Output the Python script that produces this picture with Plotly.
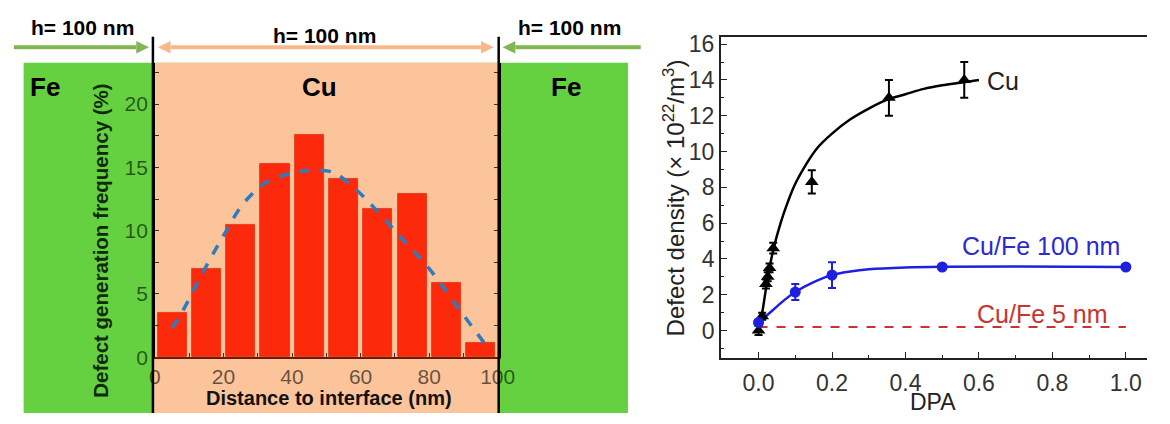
import plotly.graph_objects as go

# ---------------- data ----------------
# Left panel: histogram of defect generation frequency
dist_centers = [5, 15, 25, 35, 45, 55, 65, 75, 85, 95]
freq_values = [3.5, 7.0, 10.5, 15.3, 17.6, 14.1, 11.7, 12.95, 5.85, 1.15]
fit_x = [5, 8, 14, 20, 26, 33, 40, 46, 52, 58, 64, 72, 80, 89, 96]
fit_y = [2.3, 3.6, 6.7, 9.6, 12.2, 13.9, 14.55, 14.75, 14.6, 13.4, 11.8, 9.4, 7.0, 3.7, 1.15]
left_xticks = [0, 20, 40, 60, 80, 100]
left_yticks = [0, 5, 10, 15, 20]

# Right panel: defect density vs DPA
cu_dpa = [0.0, 0.01, 0.02, 0.025, 0.03, 0.04, 0.145, 0.355, 0.56]
cu_density = [0.0, 0.8, 2.6, 3.0, 3.5, 4.6, 8.3, 13.0, 14.0]
cu_err = [0.25, 0.2, 0.25, 0.25, 0.25, 0.3, 0.65, 1.0, 1.0]
cu_fit_x = [0, 0.01, 0.02, 0.03, 0.04, 0.06, 0.08, 0.1, 0.13, 0.16, 0.2, 0.25, 0.3, 0.35, 0.4, 0.45, 0.5, 0.55, 0.6]
cu_fit_y = [0, 1.0, 2.3, 3.5, 4.5, 6.0, 7.2, 8.2, 9.3, 10.2, 11.0, 11.8, 12.4, 12.9, 13.2, 13.5, 13.7, 13.85, 14.0]

cufe100_dpa = [0.0, 0.1, 0.2, 0.5, 1.0]
cufe100_density = [0.45, 2.15, 3.1, 3.55, 3.55]
cufe100_err = [0.0, 0.45, 0.72, 0.0, 0.0]
cufe100_fit_x = [0, 0.02, 0.04, 0.07, 0.1, 0.15, 0.2, 0.25, 0.3, 0.4, 0.5, 0.7, 1.0]
cufe100_fit_y = [0.4, 0.8, 1.16, 1.7, 2.15, 2.7, 3.1, 3.3, 3.42, 3.52, 3.56, 3.58, 3.55]

cufe5_dpa = [0.0, 1.0]
cufe5_density = [0.2, 0.2]

right_xticks = [0.0, 0.2, 0.4, 0.6, 0.8, 1.0]
right_yticks = [0, 2, 4, 6, 8, 10, 12, 14, 16]

# ---------------- layout helpers ----------------
W, H = 1170, 424
def px(x):
    return x / W
def py(y):
    return 1 - y / H

FONT = "Liberation Sans, Arial, sans-serif"
GREEN = "#66d140"
ORANGE = "#fcc49b"
ARROW_GREEN = "#82b655"
ARROW_ORANGE = "#f8b88c"
BLUE = "#1f1fe0"
RED = "#c8342c"

fig = go.Figure()

# Left panel
fig.add_trace(go.Bar(
    x=dist_centers, y=freq_values, width=8.5,
    marker=dict(color="#fc2a0a", line=dict(color="#d41c00", width=0.6)),
    xaxis="x", yaxis="y", showlegend=False,
))
fig.add_trace(go.Scatter(
    x=fit_x, y=fit_y, mode="lines", line=dict(color="#2f7bbf", width=3.5, dash="dash", shape="spline"),
    xaxis="x", yaxis="y", showlegend=False,
))

# Right panel
fig.add_trace(go.Scatter(
    x=cu_fit_x, y=cu_fit_y, mode="lines", line=dict(color="black", width=2.5, shape="spline"),
    xaxis="x2", yaxis="y2", showlegend=False,
))
fig.add_trace(go.Scatter(
    x=cufe100_fit_x, y=cufe100_fit_y, mode="lines", line=dict(color=BLUE, width=2.5, shape="spline"),
    xaxis="x2", yaxis="y2", showlegend=False,
))
fig.add_trace(go.Scatter(
    x=cufe5_dpa, y=cufe5_density, mode="lines", line=dict(color=RED, width=2, dash="dash"),
    xaxis="x2", yaxis="y2", showlegend=False,
))
fig.add_trace(go.Scatter(
    x=cu_dpa, y=cu_density, mode="markers",
    marker=dict(symbol="triangle-up", size=12, color="black"),
    error_y=dict(type="data", array=cu_err, color="black", thickness=2, width=4),
    xaxis="x2", yaxis="y2", showlegend=False,
))
fig.add_trace(go.Scatter(
    x=cufe100_dpa, y=cufe100_density, mode="markers",
    marker=dict(symbol="circle", size=11, color=BLUE),
    error_y=dict(type="data", array=cufe100_err, color=BLUE, thickness=2, width=4),
    xaxis="x2", yaxis="y2", showlegend=False,
))

# background shapes for left schematic
shapes = [
    dict(type="rect", xref="paper", yref="paper", x0=px(18), x1=px(635), y0=py(424), y1=py(60),
         fillcolor=GREEN, line=dict(width=0), layer="below"),
    dict(type="rect", xref="paper", yref="paper", x0=px(150), x1=px(503), y0=py(424), y1=py(60),
         fillcolor=ORANGE, line=dict(width=0), layer="below"),
    dict(type="line", xref="paper", yref="paper", x0=px(150), x1=px(150), y0=py(424), y1=py(33),
         line=dict(color="black", width=2.5)),
    dict(type="line", xref="paper", yref="paper", x0=px(503), x1=px(503), y0=py(424), y1=py(33),
         line=dict(color="black", width=2.5)),
]

HEAD_L, HEAD_W = 13, 6.5

def head(xtip, y, direction, color):
    xb = xtip - direction * HEAD_L
    path = "M %f,%f L %f,%f L %f,%f Z" % (px(xtip), py(y), px(xb), py(y - HEAD_W), px(xb), py(y + HEAD_W))
    shapes.append(dict(type="path", xref="paper", yref="paper", path=path,
                       fillcolor=color, line=dict(width=0)))

def arrow(x_tail, x_tip, y, color, both=False):
    d = 1 if x_tip > x_tail else -1
    xs = x_tail + (d * HEAD_L if both else 0)
    xe = x_tip - d * HEAD_L
    shapes.append(dict(type="line", xref="paper", yref="paper", x0=px(xs), x1=px(xe), y0=py(y), y1=py(y),
                       line=dict(color=color, width=4)))
    head(x_tip, y, d, color)
    if both:
        head(x_tail, y, -d, color)

arrow(8, 146, 44, ARROW_GREEN)
arrow(155, 498, 44, ARROW_ORANGE, both=True)
arrow(648, 507, 44, ARROW_GREEN)

annotations = []

def txt(x, y, s, size, color="black", bold=False, angle=0):
    annotations.append(dict(xref="paper", yref="paper", x=px(x), y=py(y), text=("<b>%s</b>" % s) if bold else s,
                            showarrow=False, xanchor="center", yanchor="middle", textangle=angle,
                            font=dict(family=FONT, size=size, color=color)))

txt(78, 23, "h= 100 nm", 21, bold=True)
txt(325, 32, "h= 100 nm", 21, bold=True)
txt(575, 23, "h= 100 nm", 21, bold=True)
txt(40, 85, "Fe", 26, bold=True)
txt(320, 85, "Cu", 26, bold=True)
txt(572, 85, "Fe", 26, bold=True)
txt(97, 245, "Defect generation frequency (%)", 20.5, color="#0f2a08", bold=True, angle=-90)
txt(330, 408, "Distance to interface (nm)", 20, color="#111", bold=True)

txt(682, 201, "Defect density (× 10<sup>22</sup>/m<sup>3</sup>)", 24, color="#222", angle=-90)
txt(946, 413, "DPA", 23, color="#222")
txt(1018, 79, "Cu", 25, color="#222")
txt(1057, 250, "Cu/Fe 100 nm", 25, color="#2a2ad0")
txt(1058, 321, "Cu/Fe 5 nm", 25, color=RED)

fig.update_layout(
    width=W, height=H, margin=dict(l=0, r=0, t=0, b=0),
    paper_bgcolor="white", plot_bgcolor="rgba(0,0,0,0)",
    shapes=shapes, annotations=annotations, bargap=0,
    xaxis=dict(domain=[px(152), px(502)], range=[0, 100], tickvals=left_xticks,
               ticktext=[str(v) for v in left_xticks],
               showline=True, linecolor="#6e1a08", linewidth=2, ticks="inside", ticklen=4,
               tickcolor="#333", minor=dict(dtick=10, ticks="inside", ticklen=4, tickcolor="#333"),
               showgrid=False, zeroline=False, tickfont=dict(family=FONT, size=21, color="rgba(0,0,0,0.6)"),
               anchor="y"),
    yaxis=dict(domain=[py(366), py(60)], range=[0, 306 / 13.15], tickvals=left_yticks,
               ticktext=[str(v) for v in left_yticks],
               showline=True, linecolor="black", linewidth=2.5, mirror="ticks", ticks="inside", ticklen=4,
               tickcolor="#333", minor=dict(dtick=2.5, ticks="inside", ticklen=4, tickcolor="#333"),
               showgrid=False, zeroline=False, tickfont=dict(family=FONT, size=21, color="rgba(0,0,0,0.6)"),
               anchor="x"),
    xaxis2=dict(domain=[px(730), px(1165)], range=[-38.3 / 375, (1165 - 768.3) / 375], tickvals=right_xticks,
                ticktext=["%.1f" % v for v in right_xticks],
                showline=True, linecolor="#222", linewidth=2, mirror=True, ticks="inside", ticklen=6,
                tickcolor="#222", minor=dict(dtick=0.1, ticks="inside", ticklen=3, tickcolor="#222"),
                showgrid=False, zeroline=False, tickfont=dict(family=FONT, size=23, color="#333"),
                ticklabelstandoff=3, anchor="y2"),
    yaxis2=dict(domain=[py(367), py(33)], range=[-(367 - 338.3) / 18.6, (338.3 - 33) / 18.6], tickvals=right_yticks,
                ticktext=[str(v) for v in right_yticks],
                showline=True, linecolor="#222", linewidth=2, ticks="inside", ticklen=6,
                tickcolor="#222", minor=dict(dtick=1, ticks="inside", ticklen=3, tickcolor="#222"),
                showgrid=False, zeroline=False, tickfont=dict(family=FONT, size=23, color="#333"),
                anchor="x2"),
)

fig.write_html("out.html")
